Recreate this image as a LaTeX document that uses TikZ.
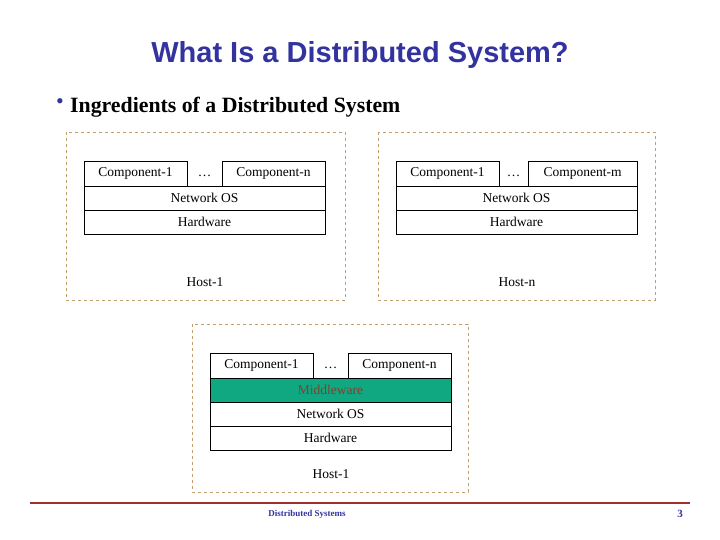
\documentclass[tikz,border=0pt]{standalone}
\usepackage{fontspec}
\setmainfont{Liberation Serif}
\newfontfamily\arialf{Liberation Sans}
\definecolor{ttl}{HTML}{3333A0}
\definecolor{hostc}{HTML}{C0A070}
\definecolor{mw}{HTML}{10A880}
\definecolor{mwt}{HTML}{804030}
\definecolor{rl}{HTML}{A03030}
\begin{document}
\begin{tikzpicture}[x=1pt,y=-1pt,
  host/.style={draw=hostc,dashed,line width=0.8pt},
  lay/.style={draw,line width=0.6pt,font=\fontsize{13.5}{15}\selectfont,inner sep=0pt},
  lbl/.style={font=\fontsize{13.5}{15}\selectfont}]
\useasboundingbox (0,0) rectangle (720,540);
\node[text=ttl,font=\arialf\bfseries\fontsize{29}{34}\selectfont] (title) at (360,55) {What Is a Distributed System?};
\node[text=ttl,font=\fontsize{22}{24}\selectfont] (bul) at (60,104) {\textbullet};
\node[anchor=west,font=\bfseries\fontsize{21.8}{24}\selectfont,inner sep=0pt] (ing) at (70,107) {Ingredients of a Distributed System};
% Host-1
\draw[host] (66,132) rectangle (345,300);
\node[lay,minimum width=103pt,minimum height=25pt] (a1) at (135.5,173.5) {Component-1};
\node[lay,minimum width=103pt,minimum height=25pt] (an) at (273.5,173.5) {Component-n};
\node[lbl] (ad) at (204.5,176) {\dots};
\node[lay,minimum width=241pt,minimum height=24pt] (ao) at (204.5,198) {Network OS};
\node[lay,minimum width=241pt,minimum height=24pt] (ah) at (204.5,222) {Hardware};
\node[lbl] (al) at (205,282) {Host-1};
% Host-n
\draw[host] (378,132) rectangle (655,300);
\node[lay,minimum width=103pt,minimum height=25pt] (b1) at (447.5,173.5) {Component-1};
\node[lay,minimum width=109pt,minimum height=25pt] (bm) at (582.5,173.5) {Component-m};
\node[lbl] (bd) at (513.5,176) {\dots};
\node[lay,minimum width=241pt,minimum height=24pt] (bo) at (516.5,198) {Network OS};
\node[lay,minimum width=241pt,minimum height=24pt] (bh) at (516.5,222) {Hardware};
\node[lbl] (bl) at (517,282) {Host-n};
% bottom host
\draw[host] (192,324) rectangle (468,492);
\node[lay,minimum width=103pt,minimum height=25pt] (c1) at (261.5,365.5) {Component-1};
\node[lay,minimum width=103pt,minimum height=25pt] (cn) at (399.5,365.5) {Component-n};
\node[lbl] (cd) at (330.5,368) {\dots};
\node[lay,fill=mw,text=mwt,minimum width=241pt,minimum height=24pt] (cm) at (330.5,390) {Middleware};
\node[lay,minimum width=241pt,minimum height=24pt] (co) at (330.5,414) {Network OS};
\node[lay,minimum width=241pt,minimum height=24pt] (ch) at (330.5,438) {Hardware};
\node[lbl] (cl) at (331,474) {Host-1};
% footer
\draw[rl,line width=1.5pt] (30,503) -- (690,503);
\node[text=ttl,font=\bfseries\fontsize{9}{10}\selectfont] (foot) at (307,514) {Distributed Systems};
\node[text=ttl,font=\bfseries\fontsize{11}{12}\selectfont] (pg) at (680,514) {3};
\end{tikzpicture}
\end{document}
